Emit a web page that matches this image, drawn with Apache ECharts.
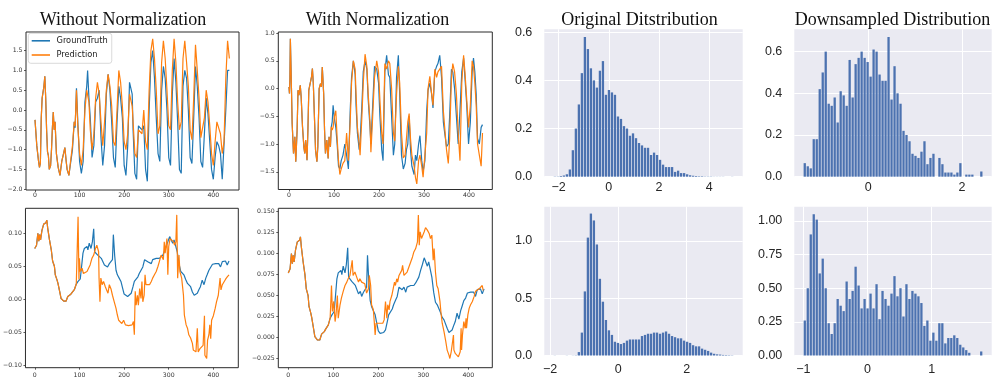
<!DOCTYPE html>
<html><head><meta charset="utf-8">
<script src="https://cdn.jsdelivr.net/npm/echarts@6/dist/echarts.min.js"></script>
<style>html,body{margin:0;padding:0;background:#fff}#c{width:1003px;height:388px}</style>
</head><body><div id="c"></div>
<script>
// ---------- titles ----------
const panelTitles = ['Without Normalization', 'With Normalization', 'Original Ditstribution', 'Downsampled Distribution'];
const seriesNames = ['GroundTruth', 'Prediction'];

// ---------- tick values ----------
const timeTicks = [0, 100, 200, 300, 400];
const p1YTicks = [-2.0, -1.5, -1.0, -0.5, 0.0, 0.5, 1.0, 1.5];
const p2YTicks = [-1.5, -1.0, -0.5, 0.0, 0.5, 1.0];
const p3YTicks = [-0.10, -0.05, 0.00, 0.05, 0.10];
const p4YTicks = [-0.025, 0.000, 0.025, 0.050, 0.075, 0.100, 0.125, 0.150];
const origXTicks = [-2, 0, 2, 4];
const origYTicks = [0.0, 0.2, 0.4, 0.6];
const downXTicks = [0, 2];
const downYTicks = [0.0, 0.2, 0.4, 0.6];
const orig2XTicks = [-2, 0, 2];
const orig2YTicks = [0.0, 0.5, 1.0];
const down2XTicks = [-1, 0, 1];
const down2YTicks = [0.00, 0.25, 0.50, 0.75, 1.00];

// ---------- panel 1: without normalization (top) ----------
const p1Truth = [[0,-0.25],[4,-0.9],[8,-1.3],[10,-1.45],[12,-1.35],[14,-0.2],[16,0.3],[18,0.25],[20,0.6],[22,0.85],[24,0.3],[26,-0.5],[28,-1.05],[30,-1.15],[32,-1.5],[35,-1.4],[37,-1.0],[39,-0.45],[41,-0.05],[43,-0.5],[45,-0.3],[48,-1.1],[52,-1.45],[56,-1.65],[60,-1.3],[64,-1.1],[67,-0.95],[70,-1.3],[72,-1.5],[76,-1.65],[80,-1.7],[84,-1.0],[88,-0.3],[90,-0.45],[93,0.55],[96,-0.3],[100,-1.3],[104,-1.6],[108,-1.3],[112,0.2],[116,0.6],[118,1.0],[121,0.3],[124,-0.2],[128,-1.2],[132,-0.9],[136,0.2],[140,0.3],[144,0.5],[148,-0.7],[152,-1.4],[156,-0.9],[160,0.4],[164,0.9],[166,0.95],[168,0.5],[172,-0.3],[176,-1.2],[180,-1.45],[184,-0.3],[188,0.6],[192,0.3],[196,-0.2],[200,-1.4],[204,-1.65],[208,-0.9],[212,0.7],[215,0.75],[218,0.4],[220,-0.5],[224,-1.6],[228,-1.75],[232,-0.4],[236,-0.35],[240,-0.5],[244,-0.4],[248,-1.5],[252,-1.8],[256,0.0],[260,1.2],[264,1.5],[268,0.8],[272,-0.2],[276,-1.1],[280,-1.3],[284,0.5],[288,1.1],[292,0.8],[296,0.0],[300,-1.2],[304,-1.4],[308,0.4],[312,1.3],[316,0.7],[320,-0.3],[324,-1.5],[328,-1.6],[332,0.6],[336,1.0],[340,0.8],[344,0.0],[348,-1.2],[352,-1.35],[356,-0.2],[360,1.1],[364,0.6],[368,-0.2],[372,-1.3],[376,-1.45],[380,-0.6],[384,0.3],[388,-0.1],[392,-0.8],[396,-1.5],[400,-1.75],[404,-1.2],[408,-0.8],[412,-0.9],[416,-1.1],[420,-1.75],[424,-1.75],[428,0.0],[432,1.0],[436,1.0]];
const p1Pred = [[0,-0.25],[4,-0.9],[8,-1.3],[10,-1.45],[12,-1.35],[14,-0.2],[16,0.3],[18,0.25],[20,0.6],[22,0.85],[24,0.3],[26,-0.5],[28,-1.05],[30,-1.15],[32,-1.5],[35,-1.4],[37,-1.0],[39,-0.45],[41,-0.05],[43,-0.5],[45,-0.3],[48,-1.1],[52,-1.45],[56,-1.65],[60,-1.3],[64,-1.1],[67,-0.95],[70,-1.3],[72,-1.5],[76,-1.65],[80,-1.7],[84,-0.9],[88,-0.3],[90,-0.4],[93,0.5],[96,-0.4],[100,-1.1],[104,-1.4],[108,-1.0],[112,0.0],[116,0.5],[118,0.55],[121,0.2],[124,-0.5],[128,-1.0],[132,-0.6],[136,0.3],[140,0.7],[144,0.4],[148,-0.3],[152,-0.9],[156,-0.3],[160,0.5],[164,0.9],[166,0.85],[168,0.6],[172,0.1],[176,-0.8],[180,-0.9],[184,0.0],[188,1.0],[192,0.7],[196,0.1],[200,-0.8],[204,-1.0],[208,-0.6],[212,0.4],[215,0.45],[218,0.1],[220,-0.3],[224,-1.1],[228,-1.2],[232,-0.5],[236,-0.5],[240,-0.6],[244,0.0],[248,-0.8],[252,-1.0],[256,0.5],[260,1.5],[264,1.8],[268,1.3],[272,0.5],[276,-0.6],[280,-0.4],[284,1.2],[288,1.75],[292,1.3],[296,0.5],[300,-0.4],[304,-0.5],[308,1.0],[312,1.8],[316,1.2],[320,0.2],[324,-0.5],[328,-0.3],[332,1.3],[336,1.75],[340,1.2],[344,0.6],[348,-0.5],[352,-0.75],[356,0.3],[360,1.65],[364,1.0],[368,0.3],[372,-0.7],[376,-0.75],[380,-0.2],[384,0.5],[388,0.2],[392,-0.4],[396,-1.1],[400,-1.4],[404,-0.8],[408,-0.3],[412,-0.45],[416,-0.6],[420,-1.1],[424,-0.8],[428,0.8],[432,1.75],[436,1.3]];

// ---------- panel 2: with normalization (top) ----------
const p2Truth = [[0,0.03],[1,-0.09],[2,0.18],[3,0.9],[5,0.18],[7,-0.63],[10,-1.17],[13,-0.87],[15,-1.32],[18,-0.75],[20,-0.03],[22,-0.12],[25,0.06],[27,-0.15],[30,-0.69],[33,-1.05],[35,-1.17],[37,-0.93],[40,-1.29],[42,-0.75],[44,-0.03],[47,0.0],[50,0.21],[52,0.36],[54,0.09],[57,-0.63],[59,-1.11],[62,-1.32],[64,-1.05],[67,0.0],[70,0.09],[72,0.03],[74,0.39],[77,-0.09],[79,-0.75],[81,-1.17],[84,-0.93],[87,-1.26],[89,-0.87],[92,-1.05],[94,-0.69],
 [96,-0.6],[98,-0.3],[101,-0.55],[104,-0.7],[107,-1.0],[110,-1.4],[113,-1.45],[116,-1.3],[120,-1.2],[124,-1.0],[128,-1.2],[132,-1.45],[136,-0.4],[139,0.2],[143,0.5],[147,0.25],[149,-0.3],[152,-0.8],[156,-1.1],[158,-0.95],[162,-0.3],[165,0.3],[169,0.5],[173,0.35],[176,-0.2],[180,-0.7],[182,-1.0],[186,-0.3],[190,0.4],[195,0.35],[199,0.1],[202,-0.5],[206,-1.1],[209,-1.3],[213,0.3],[217,0.6],[221,0.25],[224,0.2],[228,-0.5],[232,-1.2],[235,-1.0],[239,0.2],[243,0.6],[246,-0.1],[250,-1.2],[254,-1.45],[258,-1.35],[261,-1.1],[264,-1.0],[267,-0.5],[270,-1.1],[273,-1.4],[278,-1.55],[281,-1.2],[284,-1.3],[288,-1.0],[291,-0.85],[295,-1.3],[298,-1.5],[302,-1.3],[306,-0.4],[309,-0.03],[313,0.1],[317,-0.1],[320,-0.35],[324,0.3],[328,0.4],[331,0.45],[335,0.6],[339,0.2],[343,-0.6],[346,-0.8],[350,-1.05],[354,-1.0],[357,-0.5],[361,0.35],[364,0.3],[368,0.0],[372,-0.5],[376,-1.0],[380,-0.4],[384,0.3],[388,0.55],[391,0.2],[395,-0.3],[399,-1.0],[403,-0.6],[407,0.3],[410,0.55],[413,0.3],[416,-0.1],[419,-0.9],[423,-1.0],[427,-0.7],[430,-0.65]];
const p2Pred = [[0,0.03],[1,-0.09],[2,0.18],[3,0.9],[5,0.18],[7,-0.63],[10,-1.17],[13,-0.87],[15,-1.32],[18,-0.75],[20,-0.03],[22,-0.12],[25,0.06],[27,-0.15],[30,-0.69],[33,-1.05],[35,-1.17],[37,-0.93],[40,-1.29],[42,-0.75],[44,-0.03],[47,0.0],[50,0.21],[52,0.36],[54,0.09],[57,-0.63],[59,-1.11],[62,-1.32],[64,-1.05],[67,0.0],[70,0.09],[72,0.03],[74,0.39],[77,-0.09],[79,-0.75],[81,-1.17],[84,-0.93],[87,-1.26],[89,-0.87],[92,-1.05],[94,-0.69],
 [96,-0.75],[98,-0.7],[101,-0.5],[104,-0.4],[107,-0.9],[110,-1.3],[113,-1.55],[116,-1.45],[120,-1.35],[124,-1.3],[128,-0.8],[132,-1.3],[136,-0.6],[139,0.1],[143,0.5],[147,0.35],[149,-0.1],[152,-0.7],[156,-1.0],[158,-1.2],[162,-0.5],[165,0.1],[169,0.62],[173,0.4],[176,-0.1],[180,-0.6],[182,-1.15],[186,-0.5],[190,0.2],[195,0.5],[199,0.3],[202,-0.2],[206,-0.8],[209,-1.0],[213,0.45],[217,0.35],[221,0.5],[224,0.45],[228,0.0],[232,-0.8],[235,-0.95],[239,-0.1],[243,0.4],[246,0.1],[250,-0.8],[254,-1.25],[258,-1.2],[261,-0.9],[264,-0.6],[267,-0.45],[270,-0.9],[273,-1.2],[278,-1.4],[281,-1.6],[284,-1.72],[288,-1.3],[291,-1.2],[295,-1.4],[298,-1.6],[302,-1.62],[306,-0.8],[309,0.0],[313,0.22],[317,-0.1],[320,-0.3],[324,0.35],[328,0.2],[331,0.3],[335,0.35],[339,0.4],[343,-0.4],[346,-0.7],[350,-1.1],[354,-1.35],[357,-0.9],[361,0.2],[364,0.45],[368,0.3],[372,-0.1],[376,-0.8],[380,-1.3],[384,0.1],[388,0.6],[391,0.3],[395,-0.2],[399,-0.7],[403,-0.3],[407,0.5],[410,0.4],[413,0.1],[416,-0.3],[419,-1.0],[423,-1.2],[427,-1.4],[430,-0.8]];

// ---------- panels 3 & 4 (bottom): same ground truth ----------
const lowTruth = [[0,0.077],[4,0.082],[7,0.10],[9,0.088],[11,0.098],[13,0.09],[16,0.104],[20,0.114],[23,0.112],[25,0.116],[27,0.12],[29,0.108],[33,0.09],[37,0.075],[40,0.058],[44,0.05],[46,0.037],[50,0.029],[52,0.024],[56,0.011],[59,0.001],[65,-0.003],[70,-0.003],[74,0.004],[80,0.007],[83,0.01],[89,0.015],[93,0.023],[97,0.027],[100,0.029],
 [102,0.031],[106,0.057],[108,0.07],[111,0.077],[114,0.078],[117,0.08],[119,0.075],[122,0.085],[126,0.077],[129,0.087],[132,0.107],[134,0.072],[138,0.07],[141,0.067],[145,0.065],[149,0.062],[153,0.06],[156,0.052],[160,0.055],[163,0.049],[167,0.054],[171,0.052],[174,0.06],[176,0.098],[179,0.066],[182,0.044],[185,0.037],[189,0.032],[193,0.027],[197,0.016],[200,0.008],[204,0.005],[208,0.004],[212,0.006],[216,0.009],[220,0.019],[223,0.027],[227,0.029],[231,0.034],[234,0.039],[238,0.044],[242,0.049],[246,0.06],[249,0.062],[253,0.057],[257,0.06],[261,0.054],[264,0.06],[268,0.06],[272,0.062],[276,0.063],[279,0.062],[283,0.065],[287,0.067],[290,0.072],[294,0.08],[298,0.087],[302,0.095],[305,0.097],[309,0.085],[312,0.09],[316,0.092],[319,0.072],[323,0.054],[327,0.042],[331,0.039],[334,0.037],[338,0.03],[342,0.024],[346,0.021],[349,0.019],[353,0.011],[357,0.006],[360,0.004],[364,0.009],[368,0.015],[371,0.019],[375,0.029],[379,0.022],[383,0.032],[386,0.037],[390,0.044],[394,0.047],[398,0.053],[401,0.051],[405,0.054],[408,0.052],[412,0.054],[416,0.049],[420,0.057],[423,0.055],[427,0.058],[431,0.052],[435,0.058]];
const p3Pred = [[0,0.077],[4,0.082],[7,0.10],[9,0.088],[11,0.098],[13,0.09],[16,0.104],[20,0.114],[23,0.112],[25,0.116],[27,0.12],[29,0.108],[33,0.09],[37,0.075],[40,0.058],[44,0.05],[46,0.037],[50,0.029],[52,0.024],[56,0.011],[59,0.001],[65,-0.003],[70,-0.003],[74,0.004],[80,0.007],[83,0.01],[89,0.015],[93,0.023],
 [95,0.026],[97,0.125],[99,0.03],[100,0.062],[102,0.042],[106,0.047],[109,0.039],[113,0.039],[117,0.042],[121,0.044],[124,0.052],[128,0.062],[132,0.067],[136,0.077],[139,0.082],[143,0.072],[144,0.032],[146,-0.004],[148,0.032],[151,0.022],[154,0.027],[158,0.019],[161,0.022],[164,0.009],[167,0.022],[171,0.015],[174,0.006],[178,-0.004],[182,-0.014],[185,-0.024],[188,-0.032],[191,-0.03],[195,-0.037],[199,-0.032],[203,-0.039],[206,-0.039],[210,-0.04],[214,-0.042],[218,-0.039],[221,-0.034],[223,-0.054],[225,0.012],[227,-0.009],[230,0.006],[232,-0.009],[235,0.016],[238,0.001],[240,0.027],[242,-0.004],[245,0.006],[247,0.037],[249,0.022],[253,0.022],[257,0.022],[261,0.027],[264,0.032],[268,0.037],[272,0.042],[276,0.05],[279,0.057],[283,0.067],[286,0.07],[288,0.06],[290,0.087],[292,0.07],[296,0.092],[298,0.037],[300,0.08],[303,0.092],[307,0.092],[311,0.087],[313,0.082],[316,0.087],[318,0.128],[320,0.032],[323,0.067],[325,0.042],[329,0.032],[333,0.006],[335,-0.024],[339,-0.039],[342,-0.044],[345,-0.054],[349,-0.059],[353,-0.067],[355,-0.077],[359,-0.075],[361,-0.08],[364,-0.044],[366,-0.08],[370,-0.075],[374,-0.072],[377,-0.07],[380,-0.025],[381,-0.085],[385,-0.09],[387,-0.062],[390,-0.054],[392,-0.039],[394,-0.06],[396,-0.032],[400,-0.025],[404,-0.014],[407,-0.004],[411,0.006],[415,0.032],[417,0.014],[420,0.022],[423,0.025],[427,0.03],[431,0.034],[435,0.037]];
const p4Pred = [[0,0.077],[4,0.082],[7,0.10],[9,0.088],[11,0.098],[13,0.09],[16,0.104],[20,0.114],[23,0.112],[25,0.116],[27,0.12],[29,0.108],[33,0.09],[37,0.075],[40,0.058],[44,0.05],[46,0.037],[50,0.029],[52,0.024],[56,0.011],[59,0.001],[65,-0.003],[70,-0.003],[74,0.004],[80,0.007],[83,0.01],[89,0.015],[93,0.023],
 [96,0.062],[98,0.031],[101,0.043],[104,0.019],[106,0.027],[109,0.05],[111,0.023],[115,0.039],[118,0.047],[122,0.055],[126,0.062],[130,0.066],[133,0.07],[137,0.074],[142,0.092],[144,0.074],[148,0.078],[152,0.072],[156,0.066],[159,0.07],[163,0.066],[167,0.068],[170,0.064],[174,0.053],[178,0.058],[180,0.074],[183,0.062],[185,0.039],[189,0.033],[191,0.019],[193,0.003],[195,0.017],[199,0.015],[202,0.017],[206,0.015],[210,0.017],[213,0.021],[216,0.043],[219,0.023],[221,0.039],[224,0.033],[226,0.043],[230,0.05],[233,0.058],[236,0.066],[238,0.062],[241,0.07],[243,0.066],[246,0.074],[248,0.072],[252,0.08],[254,0.086],[257,0.074],[261,0.076],[264,0.078],[268,0.084],[272,0.09],[276,0.096],[279,0.102],[283,0.106],[287,0.114],[289,0.146],[291,0.11],[293,0.126],[296,0.118],[299,0.122],[302,0.126],[305,0.131],[309,0.128],[313,0.124],[316,0.118],[319,0.122],[322,0.092],[324,0.106],[327,0.078],[330,0.062],[333,0.058],[337,0.043],[339,0.031],[342,0.017],[346,0.007],[350,-0.005],[353,-0.015],[357,-0.021],[359,-0.025],[362,-0.017],[364,-0.019],[367,0.003],[368,-0.015],[371,-0.019],[374,-0.021],[378,-0.023],[382,-0.017],[384,0.011],[385,-0.015],[387,0.003],[390,0.019],[393,0.011],[395,0.023],[396,0.011],[399,0.027],[402,0.035],[405,0.039],[409,0.043],[413,0.049],[416,0.055],[420,0.056],[424,0.058],[427,0.06],[431,0.062],[433,0.056]];

// ---------- histograms (bin start, bin width, densities) ----------
const origBinStart = -2.21, origBinWidth = 0.1197;
const origDensity = [0.001,0.001,0.003,0.005,0.01,0.03,0.11,0.2,0.3,0.43,0.58,0.53,0.45,0.4,0.37,0.44,0.48,0.34,0.36,0.35,0.34,0.25,0.24,0.21,0.2,0.17,0.18,0.16,0.14,0.13,0.12,0.12,0.09,0.1,0.09,0.07,0.05,0.04,0.04,0.04,0.02,0.025,0.015,0.015,0.01,0.006,0.004,0.003,0.002,0.002,0.001,0.001,0.001,0.0005,0.0005,0.0005,0.0005,0,0,0.0005];
const downBinStart = -1.38, downBinWidth = 0.0637;
const downDensity = [0.065,0.05,0.04,0.18,0.18,0.42,0.5,0.6,0.35,0.34,0.38,0.26,0.41,0.39,0.34,0.56,0.38,0.54,0.57,0.6,0.57,0.55,0.48,0.61,0.6,0.49,0.46,0.46,0.67,0.37,0.53,0.4,0.35,0.22,0.2,0.17,0.11,0.1,0.09,0.12,0.17,0.06,0.09,0.11,0,0.09,0.06,0.02,0.02,0.02,0.01,0.02,0.065,0,0.01,0.01,0.01,0,0,0.025];
const orig2BinStart = -1.903, orig2BinWidth = 0.08798;
const orig2Density = [0.001,0,0,0,0.001,0,0.001,0.002,0.03,0.2,0.56,1.03,1.24,1.18,0.97,0.67,0.47,0.31,0.22,0.18,0.12,0.11,0.1,0.11,0.13,0.14,0.14,0.14,0.14,0.17,0.18,0.19,0.19,0.2,0.2,0.19,0.2,0.21,0.19,0.17,0.16,0.15,0.15,0.13,0.12,0.11,0.09,0.08,0.08,0.06,0.05,0.04,0.025,0.015,0.01,0.008,0.005,0.004,0.003,0.002];
const down2BinStart = -1.0, down2BinWidth = 0.04658;
const down2Density = [0.26,0.5,0.9,1.05,1.01,0.61,0.72,0.5,0.24,0.16,0.24,0.42,0.37,0.33,0.55,0.42,0.48,0.66,0.52,0.35,0.42,0.35,0.46,0.35,0.53,0.27,0.48,0.42,0.37,0.46,0.59,0.44,0.5,0.29,0.53,0.42,0.48,0.46,0.44,0.39,0.22,0.26,0.11,0.17,0.11,0.24,0.24,0.09,0.13,0.13,0.15,0.13,0.08,0.06,0.04,0.02,0,0,0,0.03];

// ---------- build ----------
const BLUE = '#1f77b4', ORANGE = '#ff7f0e', BAR = '#4C72B0';
const minus = s => String(s).replace('-', '\u2212');

const grids = [
  {left: 26, top: 32, width: 213, height: 158},
  {left: 278.3, top: 32, width: 214, height: 157.5},
  {left: 25, top: 208.3, width: 213.3, height: 159.4},
  {left: 278.3, top: 208.3, width: 214, height: 159.4},
  {left: 544.3, top: 29.3, width: 198.4, height: 147.4},
  {left: 794.3, top: 29.3, width: 197.4, height: 147.4},
  {left: 544.3, top: 206.7, width: 198.4, height: 148.8},
  {left: 794.3, top: 206.7, width: 197.4, height: 148.8}
];
const lineGrid = g => Object.assign({show: true, borderColor: '#2b2b2b', borderWidth: 1, backgroundColor: '#fff'}, g);
const histGrid = g => Object.assign({show: true, borderWidth: 0, backgroundColor: '#EAEAF2'}, g);

const lineFont = {fontFamily: 'DejaVu Sans', fontSize: 6.2, color: '#333'};
function lineX(i, min, max, margin) {
  return {type: 'value', gridIndex: i, min, max, position: 'bottom',
    axisLine: {show: false, onZero: false}, splitLine: {show: false},
    axisTick: {show: true, length: 2, lineStyle: {color: '#333', width: 0.8}, customValues: timeTicks},
    axisLabel: Object.assign({margin, customValues: timeTicks, formatter: v => minus(Math.round(v))}, lineFont)};
}
function lineY(i, min, max, ticks, dec) {
  return {type: 'value', gridIndex: i, min, max, position: 'left',
    axisLine: {show: false, onZero: false}, splitLine: {show: false},
    axisTick: {show: true, length: 2, lineStyle: {color: '#333', width: 0.8}, customValues: ticks},
    axisLabel: Object.assign({margin: 3.5, customValues: ticks, formatter: v => minus(Number(v).toFixed(dec))}, lineFont)};
}
const histFont = {fontFamily: 'Liberation Sans', fontSize: 12.5, color: '#262626'};
function histX(i, min, max, ticks, margin) {
  return {type: 'value', gridIndex: i, min, max, position: 'bottom',
    axisLine: {show: false, onZero: false},
    splitLine: {show: true, lineStyle: {color: '#ffffff', width: 1}},
    axisTick: {show: false, customValues: ticks},
    axisLabel: Object.assign({margin, customValues: ticks, formatter: v => minus(Math.round(v))}, histFont)};
}
function histY(i, max, ticks, dec) {
  return {type: 'value', gridIndex: i, min: 0, max, position: 'left',
    axisLine: {show: false, onZero: false},
    splitLine: {show: true, lineStyle: {color: '#ffffff', width: 1}},
    axisTick: {show: false, customValues: ticks},
    axisLabel: Object.assign({margin: 12, customValues: ticks, formatter: v => Number(v).toFixed(dec)}, histFont)};
}

function lineSeries(i, name, data, color) {
  return {type: 'line', name, xAxisIndex: i, yAxisIndex: i, data, symbol: 'none', showSymbol: false,
    lineStyle: {width: 1.2, color}, itemStyle: {color}, silent: true, animation: false};
}
function histSeries(i, start, width, heights) {
  const data = heights.map((h, k) => [start + k * width, start + (k + 1) * width, h]);
  return {type: 'custom', xAxisIndex: i, yAxisIndex: i, data, silent: true, animation: false,
    renderItem: (params, api) => {
      const a = api.coord([api.value(0), api.value(2)]);
      const b = api.coord([api.value(1), 0]);
      return {type: 'rect', shape: {x: a[0] + 0.35, y: a[1], width: Math.max(0.3, b[0] - a[0] - 0.7), height: b[1] - a[1]},
        style: {fill: BAR}};
    }};
}

const titleCenters = [[123, 20], [377.5, 20], [639.5, 20], [892.5, 20]];

const option = {
  animation: false,
  backgroundColor: '#ffffff',
  grid: [lineGrid(grids[0]), lineGrid(grids[1]), lineGrid(grids[2]), lineGrid(grids[3]),
         histGrid(grids[4]), histGrid(grids[5]), histGrid(grids[6]), histGrid(grids[7])],
  xAxis: [
    lineX(0, -20.2, 457.6, 2.5), lineX(1, -23.8, 451.8, 2.5), lineX(2, -20.8, 455.8, 4.5), lineX(3, -22.2, 453.3, 4.5),
    histX(4, -2.569, 5.329, origXTicks, 4), histX(5, -1.571, 2.631, downXTicks, 4),
    histX(6, -2.167, 3.640, orig2XTicks, 8), histX(7, -1.14, 1.935, down2XTicks, 8)
  ],
  yAxis: [
    lineY(0, -2.02, 1.97, p1YTicks, 1), lineY(1, -1.82, 1.02, p2YTicks, 1),
    lineY(2, -0.104, 0.138, p3YTicks, 2), lineY(3, -0.036, 0.154, p4YTicks, 3),
    histY(4, 0.612, origYTicks, 1), histY(5, 0.707, downYTicks, 1),
    histY(6, 1.30, orig2YTicks, 1), histY(7, 1.106, down2YTicks, 2)
  ],
  legend: {
    data: seriesNames, orient: 'vertical', left: 28.3, top: 33.3,
    icon: 'rect', itemWidth: 18.3, itemHeight: 1.6, itemGap: 6.2, padding: [3.5, 4, 4.3, 3.4],
    backgroundColor: 'rgba(255,255,255,0.85)', borderColor: '#d0d0d0', borderWidth: 0.8, borderRadius: 2.5,
    textStyle: {fontFamily: 'DejaVu Sans', fontSize: 8.25, color: '#222', padding: [0, 0, 0, 1.5]}
  },
  graphic: panelTitles.map((t, k) => ({type: 'text', x: titleCenters[k][0], y: titleCenters[k][1],
    style: {text: t, fontFamily: 'Liberation Serif', fontSize: 18, fill: '#111', align: 'center', verticalAlign: 'middle'}})),
  series: [
    lineSeries(0, seriesNames[0], p1Truth, BLUE), lineSeries(0, seriesNames[1], p1Pred, ORANGE),
    lineSeries(1, seriesNames[0], p2Truth, BLUE), lineSeries(1, seriesNames[1], p2Pred, ORANGE),
    lineSeries(2, seriesNames[0], lowTruth, BLUE), lineSeries(2, seriesNames[1], p3Pred, ORANGE),
    lineSeries(3, seriesNames[0], lowTruth, BLUE), lineSeries(3, seriesNames[1], p4Pred, ORANGE),
    histSeries(4, origBinStart, origBinWidth, origDensity),
    histSeries(5, downBinStart, downBinWidth, downDensity),
    histSeries(6, orig2BinStart, orig2BinWidth, orig2Density),
    histSeries(7, down2BinStart, down2BinWidth, down2Density)
  ]
};
const chart = echarts.init(document.getElementById('c'), null, {renderer: 'canvas'});
chart.setOption(option);
</script>
</body></html>
